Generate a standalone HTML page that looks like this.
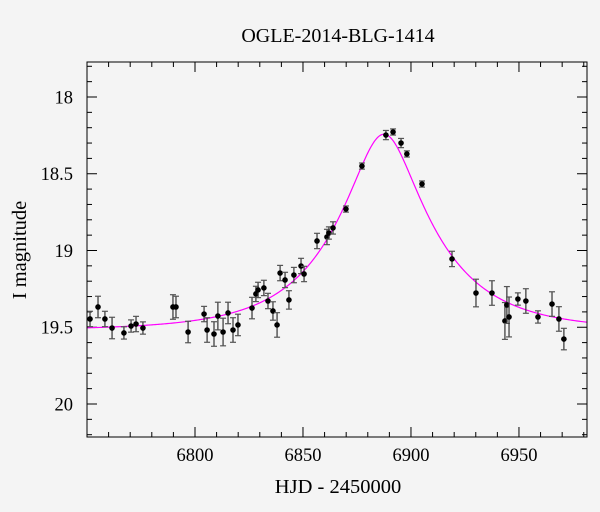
<!DOCTYPE html>
<html><head><meta charset="utf-8"><style>
html,body{margin:0;padding:0;background:#f4f4f4;}
svg{display:block;font-family:"Liberation Serif",serif;}
</style></head><body>
<svg id="chart" width="600" height="512">
<rect x="0" y="0" width="600" height="512" fill="#f4f4f4"/>
<text x="338" y="42" font-size="20" text-anchor="middle">OGLE-2014-BLG-1414</text>
<text x="338" y="493" font-size="20.5" text-anchor="middle">HJD - 2450000</text>
<text x="0" y="0" font-size="20.5" text-anchor="middle" transform="translate(26,250) rotate(-90)">I magnitude</text>
<g id="ticks"></g>
<g id="model"></g>
<g id="points"></g>
<rect x="87" y="62" width="500" height="375" fill="none" stroke="#000" stroke-width="1"/>
</svg>
<script>
const days = [6751.4,6755.1,6758.3,6761.6,6767.1,6770.4,6772.7,6775.9,6789.8,6791.2,6796.8,6804.2,6805.6,6808.8,6810.6,6813.0,6815.3,6817.6,6819.9,6826.4,6828.2,6829.2,6831.9,6833.8,6836.1,6838.0,6839.4,6841.7,6843.5,6845.8,6849.1,6850.5,6856.5,6861.1,6862.0,6863.9,6869.9,6877.3,6888.4,6891.7,6895.4,6898.1,6905.1,6919.0,6930.1,6937.5,6943.5,6944.4,6945.4,6949.5,6953.2,6958.8,6965.3,6968.5,6970.8];
const mags = [19.446,19.368,19.446,19.505,19.537,19.492,19.479,19.505,19.368,19.368,19.531,19.414,19.518,19.544,19.427,19.531,19.407,19.518,19.485,19.375,19.283,19.257,19.244,19.329,19.394,19.485,19.147,19.192,19.322,19.160,19.101,19.153,18.938,18.912,18.886,18.853,18.730,18.450,18.248,18.228,18.300,18.371,18.567,19.055,19.277,19.277,19.459,19.355,19.433,19.316,19.329,19.433,19.349,19.446,19.577];
const errs = [0.05,0.07,0.05,0.07,0.04,0.04,0.05,0.04,0.08,0.07,0.07,0.05,0.08,0.08,0.09,0.09,0.07,0.08,0.07,0.07,0.05,0.05,0.05,0.05,0.06,0.08,0.05,0.05,0.06,0.05,0.05,0.05,0.05,0.05,0.04,0.04,0.02,0.02,0.03,0.02,0.03,0.02,0.02,0.05,0.09,0.08,0.12,0.12,0.13,0.04,0.08,0.04,0.08,0.08,0.07];
const model = [6887.5, 44.5, 0.32, 19.52]; // t0, tE, u0, baseline mag
const xTicks = [6800,6850,6900,6950];
const yTicks = [18,18.5,19,19.5,20];

const L=87,R=587,T=62,B=437, X0=6750, X1=6981.5, Y0=17.772, Y1=20.215;
const xs = v => L + (v-X0)/(X1-X0)*(R-L);
const ys = v => T + (v-Y0)/(Y1-Y0)*(B-T);
const NS='http://www.w3.org/2000/svg';
function mk(tag, attrs, parent){const e=document.createElementNS(NS,tag);for(const k in attrs)e.setAttribute(k,attrs[k]);parent.appendChild(e);return e;}
const tg=document.getElementById('ticks');
for(let d=6760; d<=6980; d+=10){
  const major = xTicks.includes(d); const len = major?10:5; const x=xs(d);
  const t1=mk('line',{x1:x,x2:x,y1:B,y2:B-len,stroke:'#000'},tg);
  
  
  const t2=mk('line',{x1:x,x2:x,y1:T,y2:T+len,stroke:'#000'},tg);
  
  
}
xTicks.forEach(d=>{
  const t=mk('text',{x:xs(d),y:B+24,'font-size':18.5,'text-anchor':'middle'},tg);
  t.textContent=d;
  
  
});
for(let i=18; i<=202; i++){
  const m=i/10; if(m<Y0||m>Y1) continue;
  const major = i%5===0; const len=major?10:5; const y=ys(m);
  const t1=mk('line',{x1:L,x2:L+len,y1:y,y2:y,stroke:'#000'},tg);
  
  
  const t2=mk('line',{x1:R,x2:R-len,y1:y,y2:y,stroke:'#000'},tg);
  
  
}
yTicks.forEach(m=>{
  const t=mk('text',{x:L-14,y:ys(m)+6.5,'font-size':18.5,'text-anchor':'end'},tg);
  t.textContent=String(m);
  
  
});
const mg=document.getElementById('model');
let dstr='';
for(let t=X0; t<=X1; t+=0.5){
  const tau=(t-model[0])/model[1]; const u=Math.sqrt(model[2]*model[2]+tau*tau);
  const A=(u*u+2)/(u*Math.sqrt(u*u+4));
  const m=model[3]-2.5*Math.log10(A);
  dstr+=(dstr?'L':'M')+xs(t).toFixed(2)+','+ys(m).toFixed(2);
}
const path=mk('path',{d:dstr,fill:'none',stroke:'#ff00ff','stroke-width':1.2},mg);


const pg=document.getElementById('points');
days.forEach((d,i)=>{
  const x=xs(d), y=ys(mags[i]), e=errs[i];
  const g=mk('g',{},pg);
  
  
  const y1=ys(mags[i]-e), y2=ys(mags[i]+e);
  mk('line',{x1:x,x2:x,y1:y1,y2:y2,stroke:'#333','stroke-width':1.2},g);
  mk('line',{x1:x-3,x2:x+3,y1:y1,y2:y1,stroke:'#555','stroke-width':1.2},g);
  mk('line',{x1:x-3,x2:x+3,y1:y2,y2:y2,stroke:'#555','stroke-width':1.2},g);
  mk('circle',{cx:x,cy:y,r:2.8,fill:'#000'},g);
});
</script>
</body></html>
